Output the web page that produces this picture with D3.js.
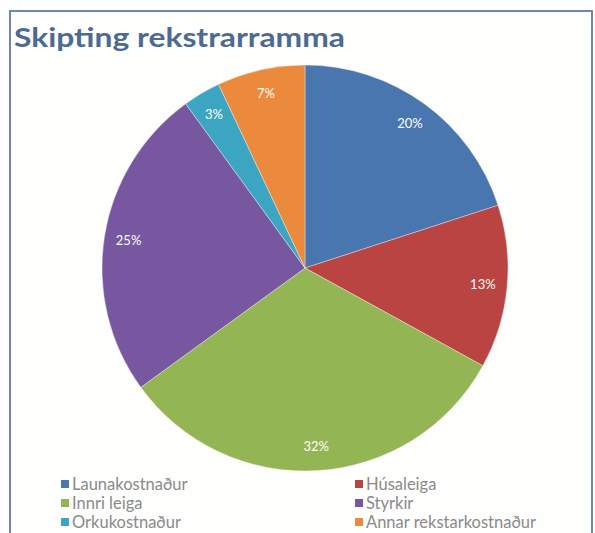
<!DOCTYPE html>
<html>
<head>
<meta charset="utf-8">
<script src="https://cdn.jsdelivr.net/npm/d3@7"></script>
<style>
  html, body { margin: 0; padding: 0; background: #ffffff; }
  svg { display: block; }
</style>
</head>
<body>
<svg id="chart" width="595" height="533"></svg>
<script>
// ---- data ----
const categories = ["Launakostnaður", "Húsaleiga", "Innri leiga", "Styrkir", "Orkukostnaður", "Annar rekstarkostnaður"];
const values = [20, 13, 32, 25, 3, 7];
const colors = ["#4A76AF", "#BA4442", "#93B554", "#7758A0", "#3CA6C2", "#EB8A3C"];
const title = "Skipting rekstrarramma";

// ---- layout ----
const cx = 305, cy = 268, R = 203;
const svg = d3.select("#chart");

// frame
svg.append("rect").attr("x", 10).attr("y", 11).attr("width", 582).attr("height", 540)
  .attr("fill", "#fefefc").attr("stroke", "#7286ad").attr("stroke-width", 2);

// title
svg.append("text").attr("x", 14).attr("y", 47)
  .attr("font-family", "Lato, 'Open Sans', sans-serif").attr("font-weight", "bold")
  .attr("font-size", 27).attr("fill", "#4c6a92")
  .attr("textLength", 331).attr("lengthAdjust", "spacingAndGlyphs")
  .text(title);

// pie
const data = categories.map((c, i) => ({ name: c, value: values[i], color: colors[i] }));
const pie = d3.pie().value(d => d.value).sort(null);
const arc = d3.arc().innerRadius(0).outerRadius(R);
const labelArc = d3.arc().innerRadius(R * 0.88).outerRadius(R * 0.88);
const total = d3.sum(values);
const g = svg.append("g").attr("transform", `translate(${cx},${cy})`);
const arcs = pie(data);
g.selectAll("path").data(arcs).join("path")
  .attr("d", arc).attr("fill", d => d.data.color)
  .attr("stroke", "#ffffff").attr("stroke-opacity", 0.35).attr("stroke-width", 1);
g.selectAll("text").data(arcs).join("text")
  .attr("transform", d => `translate(${labelArc.centroid(d)})`)
  .attr("text-anchor", "middle").attr("dy", "0.35em")
  .attr("font-family", "Lato, 'Open Sans', sans-serif").attr("font-size", 13)
  .attr("fill", "#ffffff")
  .text(d => Math.round(d.data.value / total * 100) + "%");

// legend
const legX = [61, 355], legY0 = 484, legDy = 19;
const lg = svg.append("g");
data.forEach((d, i) => {
  const col = i % 2, row = Math.floor(i / 2);
  const x = legX[col], y = legY0 + row * legDy;
  lg.append("rect").attr("x", x).attr("y", y - 4).attr("width", 8).attr("height", 8).attr("fill", d.color);
  lg.append("text").attr("x", x + 11).attr("y", y).attr("dy", "0.35em")
    .attr("font-family", "Lato, 'Open Sans', sans-serif").attr("font-size", 16.5)
    .attr("fill", "#8a8a8a").text(d.name);
});
</script>
</body>
</html>
